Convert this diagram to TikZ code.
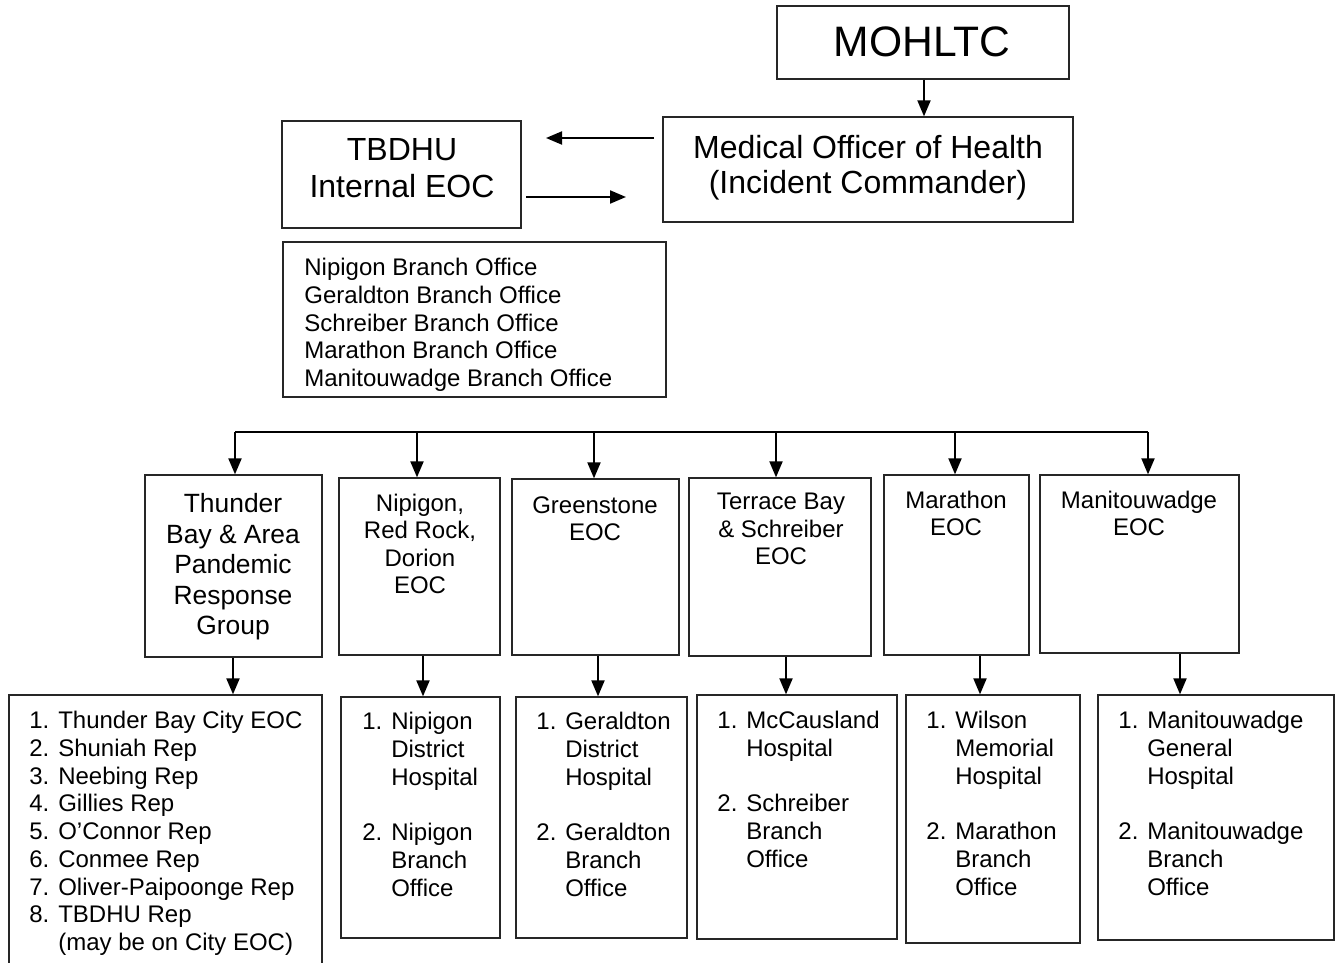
\documentclass[tikz,border=0pt]{standalone}
\usepackage{fontspec}
\setmainfont{Liberation Sans}
\usetikzlibrary{positioning, arrows.meta, fit}

\begin{document}
\begin{tikzpicture}[x=0.5pt, y=-0.5pt,
    box/.style={draw=black!85, line width=0.65pt, inner sep=0pt},
    arr/.style={-{Triangle[length=8pt, width=6.5pt]}, line width=1pt},
    hd/.style={anchor=north, align=center, inner sep=0pt,
               font=\fontsize{12}{13.6}\selectfont},
    lst/.style={anchor=north west, align=left, inner sep=0pt,
                font=\fontsize{12}{13.85}\selectfont}]
  \useasboundingbox (0,0) rectangle (1338,963);
  \clip (0,0) rectangle (1338,963);

  % ministry, MOH and the internal EOC
  \node[box, fit={(777,6) (1069,79)}] (mohltc) {};
  \node[inner sep=0pt, font=\fontsize{21.3}{24}\selectfont] (mohltct) at (922,42) {MOHLTC};
  \node[box, fit={(663,117) (1073,222)}] (moh) {};
  \node[hd, font=\fontsize{16}{17.5}\selectfont] (moht) at (868,135)
    {Medical Officer of Health\\(Incident Commander)};
  \node[box, fit={(282,121) (521,228)}] (ieoc) {};
  \node[hd, font=\fontsize{16}{18.5}\selectfont] (ieoct) at (402,138.5)
    {TBDHU\\Internal EOC};
  \node[box, fit={(283,242) (666,397)}] (branch) {};
  \node[lst] (brancht) at (304,258) {Nipigon Branch Office\\Geraldton Branch Office\\
    Schreiber Branch Office\\Marathon Branch Office\\Manitouwadge Branch Office};

  \draw[arr] (mohltc.south -| 924,0) -- (moh.north -| 924,0);
  \coordinate (toL) at (654,138);
  \coordinate (toLe) at (546,138);
  \coordinate (toR) at (526,197);
  \coordinate (toRe) at (626,197);
  \draw[arr] (toL) -- (toLe);
  \draw[arr] (toR) -- (toRe);

  % local EOCs
  \foreach \n/\x/\y/\xx/\yy in {A/145/475/322/657, B/339/478/500/655,
      C/512/479/679/655, D/689/478/871/656, E/884/475/1029/655, F/1040/475/1239/653}
    \node[box, fit={(\x,\y) (\xx,\yy)}] (\n) {};
  \node[hd, font=\fontsize{13.2}{15.25}\selectfont] (At) at (233,493)
    {Thunder\\Bay \& Area\\Pandemic\\Response\\Group};
  \node[hd] (Bt) at (420,494) {Nipigon,\\Red Rock,\\Dorion\\EOC};
  \node[hd] (Ct) at (595,496) {Greenstone\\EOC};
  \node[hd] (Dt) at (781,493) {Terrace Bay\\\& Schreiber\\EOC};
  \node[hd] (Et) at (956,491) {Marathon\\EOC};
  \node[hd] (Ft) at (1139,491) {Manitouwadge\\EOC};

  % bus to the local EOCs
  \foreach \n/\xx in {A/235, B/417, C/594, D/776, E/955, F/1148}
    \coordinate (b\n) at (\xx,432);
  \draw[line width=1pt] (bA) -- (bF);
  \foreach \n in {A,B,C,D,E,F}
    \draw[arr] (b\n) -- (b\n |- \n.north);

  % members of each EOC
  \foreach \n/\x/\y/\xx/\yy in {A2/9/695/322/975, B2/341/697/500/938,
      C2/516/697/687/938, D2/697/695/897/939, E2/906/695/1080/943, F2/1098/695/1334/940}
    \node[box, fit={(\x,\y) (\xx,\yy)}] (\n) {};
  \node[lst] (A2t) at (29,711) {1. Thunder Bay City EOC\\2. Shuniah Rep\\
    3. Neebing Rep\\4. Gillies Rep\\5. O’Connor Rep\\6. Conmee Rep\\
    7. Oliver-Paipoonge Rep\\8. TBDHU Rep\\\phantom{8. }(may be on City EOC)};
  \node[lst] (B2t) at (362,712) {1. Nipigon\\\phantom{1. }District\\\phantom{1. }Hospital\\[13.85pt]
    2. Nipigon\\\phantom{2. }Branch\\\phantom{2. }Office};
  \node[lst] (C2t) at (536,712) {1. Geraldton\\\phantom{1. }District\\\phantom{1. }Hospital\\[13.85pt]
    2. Geraldton\\\phantom{2. }Branch\\\phantom{2. }Office};
  \node[lst] (D2t) at (717,711) {1. McCausland\\\phantom{1. }Hospital\\[13.85pt]
    2. Schreiber\\\phantom{2. }Branch\\\phantom{2. }Office};
  \node[lst] (E2t) at (926,711) {1. Wilson\\\phantom{1. }Memorial\\\phantom{1. }Hospital\\[13.85pt]
    2. Marathon\\\phantom{2. }Branch\\\phantom{2. }Office};
  \node[lst] (F2t) at (1118,711) {1. Manitouwadge\\\phantom{1. }General\\\phantom{1. }Hospital\\[13.85pt]
    2. Manitouwadge\\\phantom{2. }Branch\\\phantom{2. }Office};

  \foreach \n/\xx in {A/233, B/423, C/598, D/786, E/980, F/1180}
    \draw[arr] (\n.south -| \xx,0) -- (\n2.north -| \xx,0);
\end{tikzpicture}
\end{document}
